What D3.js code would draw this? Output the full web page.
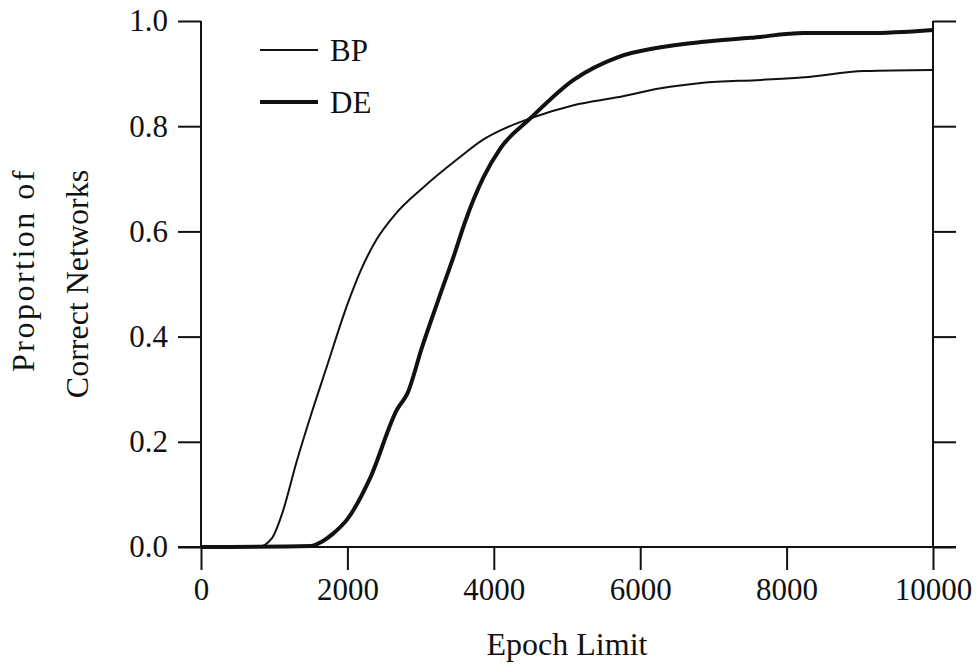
<!DOCTYPE html>
<html lang="en">
<head>
  <meta charset="UTF-8">
  <title>Proportion of Correct Networks</title>
  <script src="https://cdn.jsdelivr.net/npm/d3@7/dist/d3.min.js"></script>
  <style>
    body { margin: 0; background: #fff; }
    text { font-family: "Liberation Serif", "Times New Roman", serif; fill: #111; }
  </style>
</head>
<body>
  <div id="wrapper"></div>
  <script>
    // values
    const bpEpochs = [0, 780, 970, 1100, 1310, 1500, 1700, 2010, 2180, 2400, 2650, 3040, 3500, 3860, 4090, 4500, 5090, 5690, 6280, 6830, 7650, 8240, 9060, 10000]
    const bpValues = [0, 0, 0.017, 0.06, 0.164, 0.25, 0.335, 0.465, 0.525, 0.585, 0.632, 0.684, 0.737, 0.775, 0.792, 0.815, 0.84, 0.855, 0.872, 0.882, 0.888, 0.893, 0.905, 0.907]
    const deEpochs = [0, 1500, 1650, 1800, 2000, 2310, 2680, 2820, 3020, 3240, 3470, 3600, 3860, 4090, 4500, 5090, 5690, 6280, 6830, 7510, 8240, 9110, 10000]
    const deValues = [0, 0.002, 0.01, 0.025, 0.053, 0.131, 0.262, 0.292, 0.38, 0.469, 0.56, 0.615, 0.703, 0.758, 0.815, 0.888, 0.931, 0.95, 0.96, 0.968, 0.977, 0.977, 0.983]
    const xTicks = [0, 2000, 4000, 6000, 8000, 10000]
    const yTicks = [0, 0.2, 0.4, 0.6, 0.8, 1.0]
    const seriesNames = ["BP", "DE"]

    let dimensions = {
      width: 977,
      height: 664,
      margin: { top: 21, right: 44, bottom: 117, left: 201 }
    }
    dimensions.boundedWidth = dimensions.width - dimensions.margin.left - dimensions.margin.right
    dimensions.boundedHeight = dimensions.height - dimensions.margin.top - dimensions.margin.bottom

    const svg = d3.select("#wrapper").append("svg")
      .attr("width", dimensions.width)
      .attr("height", dimensions.height)
    const bounds = svg.append("g")
      .attr("transform", `translate(${dimensions.margin.left},${dimensions.margin.top})`)

    const xScale = d3.scaleLinear().domain([0, 10000]).range([0, dimensions.boundedWidth])
    const yScale = d3.scaleLinear().domain([0, 1]).range([dimensions.boundedHeight, 0])
    const tickLen = 23

    // left axis with labels
    const yAxis = bounds.append("g")
      .call(d3.axisLeft(yScale).tickValues(yTicks).tickSize(tickLen).tickPadding(10).tickFormat(d3.format(".1f")))
    yAxis.select(".domain").remove()
    yAxis.selectAll("line").attr("stroke", "#111").attr("stroke-width", 2)
    yAxis.selectAll("text").attr("font-size", 31).attr("fill", "#111")

    // right axis, ticks only
    const yAxisRight = bounds.append("g")
      .attr("transform", `translate(${dimensions.boundedWidth},0)`)
      .call(d3.axisRight(yScale).tickValues(yTicks).tickSize(tickLen).tickFormat(""))
    yAxisRight.select(".domain").remove()
    yAxisRight.selectAll("line").attr("stroke", "#111").attr("stroke-width", 2)

    // bottom axis
    const xAxis = bounds.append("g")
      .attr("transform", `translate(0,${dimensions.boundedHeight})`)
      .call(d3.axisBottom(xScale).tickValues(xTicks).tickSize(tickLen).tickPadding(8).tickFormat(d3.format("d")))
    xAxis.select(".domain").remove()
    xAxis.selectAll("line").attr("stroke", "#111").attr("stroke-width", 2)
    xAxis.selectAll("text").attr("font-size", 31).attr("fill", "#111")

    // frame lines: left, right and bottom (no top)
    bounds.append("line")
      .attr("x1", xScale(0)).attr("x2", xScale(0))
      .attr("y1", yScale(1)).attr("y2", yScale(0))
      .attr("stroke", "#111").attr("stroke-width", 2)
    bounds.append("line")
      .attr("x1", xScale(10000)).attr("x2", xScale(10000))
      .attr("y1", yScale(1)).attr("y2", yScale(0))
      .attr("stroke", "#111").attr("stroke-width", 2)
    bounds.append("line")
      .attr("x1", xScale(0) - tickLen).attr("x2", xScale(10000) + tickLen)
      .attr("y1", yScale(0)).attr("y2", yScale(0))
      .attr("stroke", "#111").attr("stroke-width", 2)

    const lineGenerator = d3.line()
      .x(d => xScale(d[0]))
      .y(d => yScale(d[1]))
      .curve(d3.curveMonotoneX)

    const bpData = d3.zip(bpEpochs, bpValues)
    const deData = d3.zip(deEpochs, deValues)

    bounds.append("path")
      .attr("d", lineGenerator(bpData))
      .attr("fill", "none")
      .attr("stroke", "#111")
      .attr("stroke-width", 2)
      .attr("stroke-linejoin", "round")
    bounds.append("path")
      .attr("d", lineGenerator(deData))
      .attr("fill", "none")
      .attr("stroke", "#111")
      .attr("stroke-width", 4)
      .attr("stroke-linejoin", "round")

    // legend
    const legend = svg.append("g")
    seriesNames.forEach((name, i) => {
      const y = 50 + i * 52
      legend.append("line")
        .attr("x1", 260).attr("x2", 318)
        .attr("y1", y).attr("y2", y)
        .attr("stroke", "#111")
        .attr("stroke-width", i === 0 ? 2 : 4)
      legend.append("text")
        .attr("x", 330).attr("y", y + 11)
        .attr("font-size", 31)
        .text(name)
    })

    // axis titles
    svg.append("text")
      .attr("x", 567).attr("y", 655)
      .attr("text-anchor", "middle")
      .attr("font-size", 32)
      .text("Epoch Limit")
    svg.append("text")
      .attr("transform", "translate(34,270) rotate(-90)")
      .attr("text-anchor", "middle")
      .attr("font-size", 32)
      .attr("letter-spacing", 2.5)
      .text("Proportion of")
    svg.append("text")
      .attr("transform", "translate(88,284) rotate(-90)")
      .attr("text-anchor", "middle")
      .attr("font-size", 32)
      .text("Correct Networks")
  </script>
</body>
</html>
